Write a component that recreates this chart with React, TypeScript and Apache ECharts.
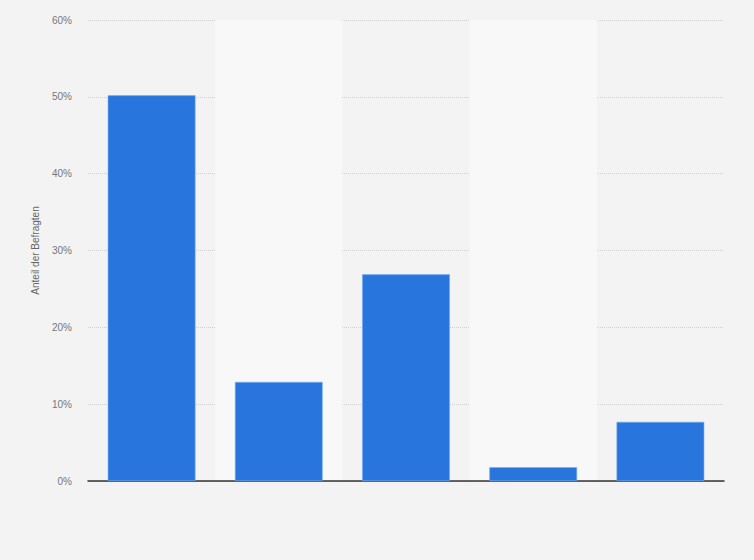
import React, { useEffect, useRef } from 'react';
import * as echarts from 'echarts';

const categories = ['A', 'B', 'C', 'D', 'E'];
const shares = [50.2, 12.9, 26.9, 1.8, 7.7];
const yTicks = [0, 10, 20, 30, 40, 50, 60];

const App: React.FC = () => {
  const chartRef = useRef<HTMLDivElement>(null);

  useEffect(() => {
    document.body.style.margin = '0';
    if (!chartRef.current) return;
    const chart = echarts.init(chartRef.current, undefined, { renderer: 'svg' });

    const option: echarts.EChartsOption = {
      animation: false,
      backgroundColor: '#f3f3f3',
      grid: { left: 88, right: 30, top: 20, bottom: 79, containLabel: false },
      xAxis: {
        type: 'category',
        data: categories,
        axisLine: { lineStyle: { color: '#333', width: 1.5 } },
        axisTick: { show: false },
        axisLabel: { show: false },
        splitArea: { show: true, areaStyle: { color: ['rgba(0,0,0,0)', '#f8f8f8'] } },
      },
      yAxis: {
        type: 'value',
        min: yTicks[0],
        max: yTicks[yTicks.length - 1],
        interval: 10,
        name: 'Anteil der Befragten',
        nameLocation: 'middle',
        nameGap: 48,
        nameTextStyle: { color: '#666', fontSize: 10, fontFamily: 'Arial, Liberation Sans' },
        axisLine: { show: false },
        axisTick: { show: false },
        axisLabel: {
          formatter: '{value}%',
          color: '#777',
          fontSize: 10,
          margin: 16,
          fontFamily: 'Arial, Liberation Sans',
        },
        splitLine: { lineStyle: { color: '#cfcfcf', type: [1, 1] } },
      },
      series: [
        {
          type: 'bar',
          data: shares,
          barWidth: '69%',
          itemStyle: { color: '#2876dd', borderColor: '#7eaef0', borderWidth: 0.6 },
        },
      ],
    };

    chart.setOption(option);
    return () => chart.dispose();
  }, []);

  return <div ref={chartRef} style={{ width: 754, height: 560 }} />;
};

export default App;
